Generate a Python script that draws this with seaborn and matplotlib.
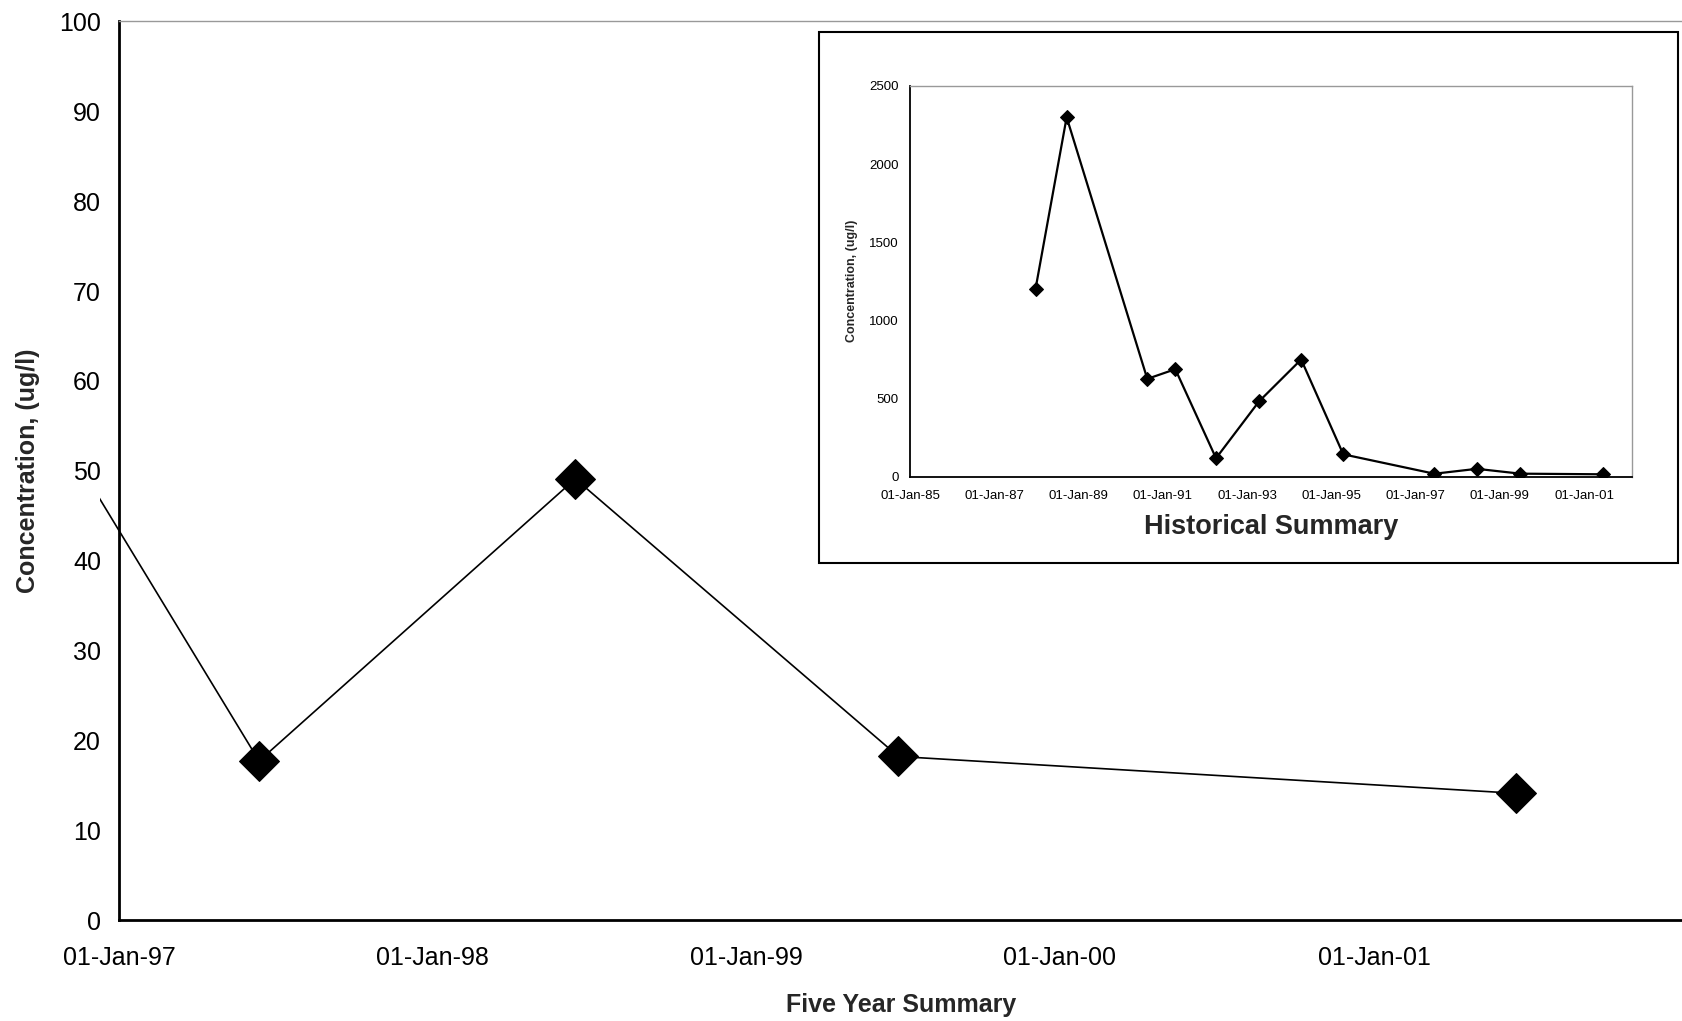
import numpy as np
import pandas as pd
import matplotlib
matplotlib.use("Agg")
import matplotlib.pyplot as plt
import matplotlib.dates as mdates
from matplotlib.patches import Rectangle
from matplotlib.transforms import Bbox, TransformedBbox
import seaborn as sns

# ---------------- data ----------------
sample_dates = ["1987-12-25", "1988-09-20", "1990-08-20", "1991-04-20",
                "1992-04-07", "1993-04-15", "1994-04-15", "1995-04-15",
                "1997-06-13", "1998-06-16", "1999-06-27", "2001-06-15"]
concentration = [1200, 2300, 625, 687, 117, 481, 749, 142,
                 17.7, 49.1, 18.2, 14.1]

main_yticks = [0, 10, 20, 30, 40, 50, 60, 70, 80, 90, 100]
main_tick_years = [1997, 1998, 1999, 2000, 2001]
inset_yticks = [0, 500, 1000, 1500, 2000, 2500]
inset_tick_years = [1985, 1987, 1989, 1991, 1993, 1995, 1997, 1999, 2001]

main_xlabel = "Five Year Summary"
inset_xlabel = "Historical Summary"
ylabel = "Concentration, (ug/l)"

df = pd.DataFrame({"date": pd.to_datetime(sample_dates), "conc": concentration})

# ---------------- style ----------------
sns.set_style("white")
plt.rcParams["font.family"] = ["Liberation Sans", "DejaVu Sans"]

fig = plt.figure(figsize=(16.83, 10.21), dpi=100)

# ---------------- main axes ----------------
ax = fig.add_axes([119 / 1683, 1 - 920 / 1021, 1 - 119 / 1683, (920 - 21.5) / 1021])
sns.lineplot(data=df, x="date", y="conc", ax=ax, color="black", lw=1.2,
             marker="D", markersize=20, markeredgecolor="black",
             markerfacecolor="black", sort=True)
ax.set_xlim(pd.Timestamp("1997-01-01"), pd.Timestamp("2001-12-26"))
ax.set_ylim(0, 100)
ax.set_yticks(main_yticks)
ax.set_xticks([mdates.date2num(pd.Timestamp(f"{y}-01-01")) for y in main_tick_years])
ax.xaxis.set_major_formatter(mdates.DateFormatter("%d-%b-%y"))
ax.tick_params(axis="both", labelsize=18, colors="black", direction="out")
ax.tick_params(axis="x", length=7, width=1, pad=12)
ax.tick_params(axis="y", length=7, width=1, pad=6)
ax.set_xlabel(main_xlabel, fontsize=18, fontweight="bold", labelpad=16)
ax.set_ylabel(ylabel, fontsize=18, fontweight="bold", labelpad=14)
for s in ["left", "bottom"]:
    ax.spines[s].set_color("black")
    ax.spines[s].set_linewidth(2)
ax.spines["top"].set_color("#999999")
ax.spines["top"].set_linewidth(1)
ax.spines["right"].set_visible(False)

# line continues a little past the left axis, as in the source
for ln in ax.lines:
    ln.set_clip_box(TransformedBbox(Bbox([[-0.0122, 0], [1, 1]]), ax.transAxes))

# ---------------- inset frame ----------------
frame = Rectangle((819 / 1683, 1 - 563 / 1021), (1678 - 819) / 1683, (563 - 32) / 1021,
                  transform=fig.transFigure, facecolor="white", edgecolor="black",
                  lw=1.5, zorder=1)
fig.add_artist(frame)

# ---------------- inset axes ----------------
ax2 = fig.add_axes([910 / 1683, 1 - 476.5 / 1021, (1632 - 910) / 1683, (476.5 - 86) / 1021])
ax2.set_zorder(2)
sns.lineplot(data=df, x="date", y="conc", ax=ax2, color="black", lw=1.6,
             marker="D", markersize=7.5, markeredgecolor="black",
             markerfacecolor="black", sort=True)
ax2.set_xlim(pd.Timestamp("1985-01-01"), pd.Timestamp("2002-02-20"))
ax2.set_ylim(0, 2500)
ax2.set_yticks(inset_yticks)
ax2.set_xticks([mdates.date2num(pd.Timestamp(f"{y}-01-01")) for y in inset_tick_years])
ax2.xaxis.set_major_formatter(mdates.DateFormatter("%d-%b-%y"))
ax2.tick_params(axis="both", labelsize=9.5, colors="black", direction="out", length=4, width=1)
ax2.tick_params(axis="x", pad=6)
ax2.tick_params(axis="y", pad=4)
ax2.set_xlabel(inset_xlabel, fontsize=19.5, fontweight="bold", labelpad=8)
ax2.set_ylabel(ylabel, fontsize=9, fontweight="bold", labelpad=8)
for s in ["left", "bottom"]:
    ax2.spines[s].set_color("black")
    ax2.spines[s].set_linewidth(1.3)
for s in ["top", "right"]:
    ax2.spines[s].set_color("#999999")
    ax2.spines[s].set_linewidth(1)

fig.savefig("out.png", dpi=100, facecolor="white")
